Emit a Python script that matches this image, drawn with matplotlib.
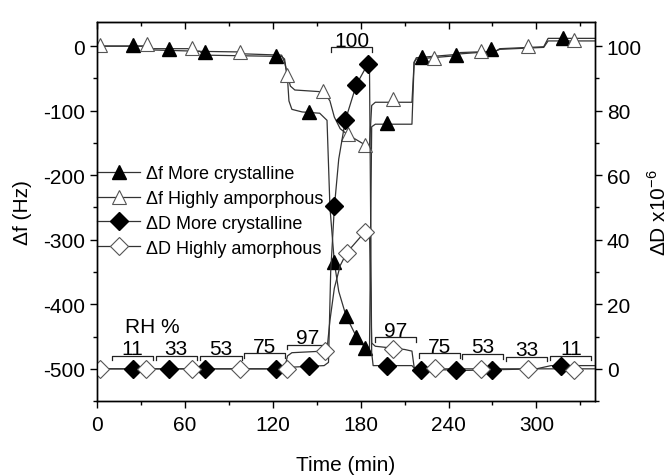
import numpy as np
import matplotlib.pyplot as plt
from matplotlib.ticker import MultipleLocator
from matplotlib.lines import Line2D

plt.rcParams['font.family'] = ['Liberation Sans', 'DejaVu Sans']
plt.rcParams['mathtext.fontset'] = 'custom'
plt.rcParams['mathtext.rm'] = 'Liberation Sans'
plt.rcParams['axes.unicode_minus'] = False

# marker points
t_fc = [24.5, 49, 74, 122, 145, 162, 170, 177, 183, 198, 222, 245, 269, 318]
f_fc = [2, -5, -9, -15, -102, -335, -418, -450, -467, -119, -17, -14, -5, 12]

t_fa = [2, 34, 65, 97.5, 130, 154, 171, 183, 202, 230, 262, 294, 326]
f_fa = [1, 4, -3, -9, -45, -70, -136, -153, -82, -18, -7, 0, 9]

t_dc = [24.5, 49, 74, 122, 144.5, 162, 169.5, 177, 185, 198, 221.5, 245, 270, 317]
d_dc = [0, 0, 0, 0, 1, 50.6, 77, 88, 94.6, 1, -0.5, -0.5, -0.5, 1]

t_da = [2, 33.4, 65, 97.5, 129.5, 155.5, 170.5, 183, 202, 231, 262, 294, 326]
d_da = [0, 0, 0, 0, 0, 5.5, 36, 42.5, 6.2, 0.3, 0, 0, -0.3]

# continuous traces (breakpoints)
lt_fc = [0, 35, 38, 70, 73, 126, 128, 130, 131, 133, 140, 152, 157, 159, 162, 165, 170, 177, 183, 186,
         187.5, 190, 215, 216.5, 218, 245, 248, 272, 275, 305, 308, 340]
lf_fc = [0, 0, -6, -8, -14, -16, -20, -50, -85, -98, -102, -104, -115, -250, -335, -380, -418, -450, -467, -470,
         -125, -121, -121, -25, -18, -13, -10, -8, -4, -1, 12, 12]

lt_fa = [0, 35, 38, 62, 66, 96, 100, 126, 128, 130, 132, 135, 155, 159, 162, 166, 171, 183, 186,
         187.5, 190, 215, 216.5, 218, 245, 248, 272, 275, 305, 308, 340]
lf_fa = [0, 0, -4, -4, -8, -9, -12, -14, -25, -45, -62, -68, -71, -85, -110, -128, -137, -153, -155,
         -92, -87, -87, -25, -20, -15, -12, -8, -5, -2, 8, 8]

lt_dc = [0, 130, 132, 155, 158, 159.5, 162, 165, 169.5, 177, 185, 186, 187.5, 188.5, 215, 217, 250, 300, 310, 340]
ld_dc = [0, 0, 0.5, 1, 2, 30, 50, 65, 77, 88, 94.6, 94, 5, 1, 1, 0, -0.5, 0, 1, 1]

lt_da = [0, 128, 130, 133, 155, 157, 159, 162, 166, 170.5, 183, 186, 187.5, 190, 210, 215, 216.5, 218, 340]
ld_da = [0, 0, 4, 5, 5.5, 6, 15, 25, 32, 36, 42.5, 43, 8, 7, 6, 5.5, 0.5, 0, 0]

# RH brackets
rh_labels = ['11', '33', '53', '75', '97', '100', '97', '75', '53', '33', '11']
rh_start = [10, 40, 70, 100, 130, 160, 189.5, 219.5, 249.5, 279.5, 309.5]
rh_end = [38, 68, 99, 128, 157.5, 188, 218, 248, 277.5, 307.5, 337.5]
rh_level = [-480, -480, -480, -476, -463, -2, -451, -476, -477, -481, -480]

fig = plt.figure(figsize=(6.7, 4.77), dpi=100)
ax = fig.add_axes([0.145, 0.157, 0.743, 0.795])
ax2 = ax.twinx()

lc = '#333333'
lw = 0.9
ax.plot(lt_fc, lf_fc, color=lc, lw=lw)
ax.plot(lt_fa, lf_fa, color=lc, lw=lw)
ax2.plot(lt_dc, ld_dc, color=lc, lw=lw)
ax2.plot(lt_da, ld_da, color=lc, lw=lw)

tri_fill = dict(marker='^', ms=10, mfc='black', mec='black')
tri_open = dict(marker='^', ms=10, mfc='white', mec='#555555', mew=0.8)
dia_fill = dict(marker='D', ms=9, mfc='black', mec='black')
dia_open = dict(marker='D', ms=9, mfc='white', mec='#555555', mew=0.8)

ax.plot(t_fc, f_fc, ls='none', **tri_fill)
ax.plot(t_fa, f_fa, ls='none', **tri_open)
ax2.plot(t_dc, d_dc, ls='none', **dia_fill)
ax2.plot(t_da, d_da, ls='none', **dia_open)

for lab, s, e, lev in zip(rh_labels, rh_start, rh_end, rh_level):
    ax.plot([s, s, e, e], [lev - 7, lev, lev, lev - 7], color='#222222', lw=0.9, zorder=5)
    ax.text((s + e) / 2, lev + 2.5, lab, ha='center', va='baseline', fontsize=15)
ax.text(37.5, -443, 'RH %', ha='center', va='baseline', fontsize=15)

ax.set_xlim(0, 340)
ax.set_ylim(-550, 37.5)
ax2.set_ylim(-10, 107.5)

ax.xaxis.set_major_locator(MultipleLocator(60))
ax.xaxis.set_minor_locator(MultipleLocator(30))
ax.yaxis.set_major_locator(MultipleLocator(100))
ax.yaxis.set_minor_locator(MultipleLocator(50))
ax2.yaxis.set_major_locator(MultipleLocator(20))
ax2.yaxis.set_minor_locator(MultipleLocator(10))

ax.tick_params(which='major', direction='out', length=5, width=1, labelsize=15)
ax.tick_params(axis='x', which='major', pad=5)
ax.tick_params(which='minor', direction='out', length=3, width=1)
ax2.tick_params(which='major', direction='out', length=5, width=1, labelsize=15)
ax2.tick_params(which='minor', direction='out', length=3, width=1)

top = ax.secondary_xaxis('top')
top.xaxis.set_major_locator(MultipleLocator(60))
top.xaxis.set_minor_locator(MultipleLocator(30))
top.tick_params(which='major', direction='in', length=5, width=1, labeltop=False)
top.tick_params(which='minor', direction='in', length=3, width=1)

for a in (ax, ax2):
    for sp in a.spines.values():
        sp.set_linewidth(1)

ax.set_xlabel('Time (min)', fontsize=15, labelpad=15)
ax.set_ylabel('Δf (Hz)', fontsize=15, labelpad=8)
ax2.set_ylabel('ΔD x10$^{-6}$', fontsize=15, labelpad=4)

handles = [
    Line2D([], [], color=lc, lw=lw, **tri_fill),
    Line2D([], [], color=lc, lw=lw, **tri_open),
    Line2D([], [], color=lc, lw=lw, **dia_fill),
    Line2D([], [], color=lc, lw=lw, **dia_open),
]
labels = ['Δf More crystalline', 'Δf Highly amporphous', 'ΔD More crystalline', 'ΔD Highly amorphous']
ax.legend(handles, labels, loc='upper left', bbox_to_anchor=(0, 0.622), frameon=False,
          fontsize=13, handlelength=2.4, handletextpad=0.3, labelspacing=0.43,
          borderpad=0, borderaxespad=0)

fig.savefig('out.png', dpi=100)
